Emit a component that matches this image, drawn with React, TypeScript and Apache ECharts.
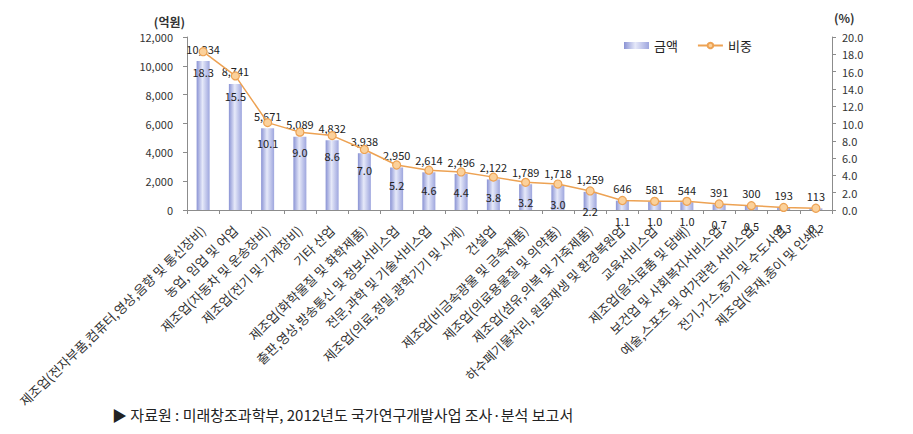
import React, { useEffect, useRef } from "react";
import * as echarts from "echarts";

const categories = [
  "제조업(전자부품,컴퓨터,영상,음향 및 통신장비)",
  "농업, 임업 및 어업",
  "제조업(자동차 및 운송장비)",
  "제조업(전기 및 기계장비)",
  "기타 산업",
  "제조업(화학물질 및 화학제품)",
  "출판,영상,방송통신 및 정보서비스업",
  "전문,과학 및 기술서비스업",
  "제조업(의료,정밀,광학기기 및 시계)",
  "건설업",
  "제조업(비금속광물 및 금속제품)",
  "제조업(의료용물질 및 의약품)",
  "제조업(섬유,의복 및 가죽제품)",
  "하수폐기물처리, 원료재생 및 환경복원업",
  "교육서비스업",
  "제조업(음식료품 및 담배)",
  "보건업 및 사회복지서비스업",
  "예술,스포츠 및 여가관련 서비스업",
  "전기,가스,증기 및 수도사업",
  "제조업(목재,종이 및 인쇄)",
];

const amounts = [10334, 8741, 5671, 5089, 4832, 3938, 2950, 2614, 2496, 2122, 1789, 1718, 1259, 646, 581, 544, 391, 300, 193, 113];
const shares = [18.3, 15.5, 10.1, 9.0, 8.6, 7.0, 5.2, 4.6, 4.4, 3.8, 3.2, 3.0, 2.2, 1.1, 1.0, 1.0, 0.7, 0.5, 0.3, 0.2];

const leftTicks = { min: 0, max: 12000, interval: 2000 };
const rightTicks = { min: 0, max: 20, interval: 2 };

const sourceText = "▶ 자료원 : 미래창조과학부, 2012년도 국가연구개발사업 조사·분석 보고서";

const FONT = "'Noto Sans CJK KR', 'Noto Sans', sans-serif";

export default function App() {
  const ref = useRef<HTMLDivElement>(null);
  useEffect(() => {
    if (!ref.current) return;
    const chart = echarts.init(ref.current, undefined, { renderer: "svg" });
    const barColor = new echarts.graphic.LinearGradient(0, 0, 1, 0, [
      { offset: 0, color: "#8a93d4" },
      { offset: 0.45, color: "#e6e9f9" },
      { offset: 1, color: "#9ea6de" },
    ]);
    const axisLineColor = "#8c8c8c";
    chart.setOption({
      animation: false,
      textStyle: { fontFamily: FONT },
      grid: { left: 187, right: 81, top: 37, bottom: 224, containLabel: false },
      legend: {
        left: 619,
        top: 34,
        itemGap: 19,
        itemWidth: 25,
        itemHeight: 7,
        textStyle: { fontSize: 13, color: "#222", fontFamily: FONT },
        data: [
          { name: "금액", icon: "rect" },
          { name: "비중" },
        ],
      },
      xAxis: {
        type: "category",
        data: categories,
        axisLine: { lineStyle: { color: axisLineColor } },
        axisTick: { show: true, length: 4, lineStyle: { color: axisLineColor } },
        axisLabel: {
          interval: 0,
          rotate: 44,
          fontSize: 13,
          color: "#333",
          margin: 18,
          fontFamily: FONT,
        },
      },
      yAxis: [
        {
          type: "value",
          ...leftTicks,
          name: "(억원)",
          nameLocation: "end",
          nameGap: 10,
          nameTextStyle: { fontSize: 12, fontWeight: "bold", color: "#333", align: "right", padding: [0, 2, 0, 0] },
          axisLine: { show: true, lineStyle: { color: axisLineColor } },
          axisTick: { show: true, length: 4, lineStyle: { color: axisLineColor } },
          splitLine: { show: false },
          axisLabel: {
            fontSize: 11,
            color: "#333",
            margin: 14,
            formatter: (v: number) => v.toLocaleString("en-US"),
          },
        },
        {
          type: "value",
          ...rightTicks,
          position: "right",
          name: "(%)",
          nameLocation: "end",
          nameGap: 14,
          nameTextStyle: { fontSize: 12, fontWeight: "bold", color: "#333", align: "left", padding: [0, 0, 0, 2] },
          axisLine: { show: true, lineStyle: { color: axisLineColor } },
          axisTick: { show: true, length: 4, lineStyle: { color: axisLineColor } },
          splitLine: { show: false },
          axisLabel: {
            fontSize: 11,
            color: "#333",
            margin: 10,
            formatter: (v: number) => v.toFixed(1),
          },
        },
      ],
      series: [
        {
          name: "금액",
          type: "bar",
          yAxisIndex: 0,
          data: amounts,
          barWidth: 13,
          itemStyle: { color: barColor },
          label: {
            show: true,
            position: "top",
            distance: 7,
            fontSize: 11,
            color: "#222",
            formatter: (p: any) => Number(p.value).toLocaleString("en-US"),
          },
          z: 2,
        },
        {
          name: "비중",
          type: "line",
          yAxisIndex: 1,
          data: shares,
          symbol: "circle",
          symbolSize: 8,
          lineStyle: { color: "#eda253", width: 1.5 },
          itemStyle: { color: "#fbd19b", borderColor: "#eda253", borderWidth: 1.2 },
          label: {
            show: true,
            position: "bottom",
            distance: 10,
            fontSize: 11,
            color: "#222",
            formatter: (p: any) => Number(p.value).toFixed(1),
          },
          z: 3,
        },
      ],
      graphic: [
        {
          type: "text",
          left: 112,
          top: 407,
          style: { text: sourceText, fontSize: 15, fill: "#222", fontFamily: FONT },
        },
      ],
    });
    return () => chart.dispose();
  }, []);
  return <div ref={ref} style={{ position: "absolute", left: 0, top: 0, width: 913, height: 434 }} />;
}
